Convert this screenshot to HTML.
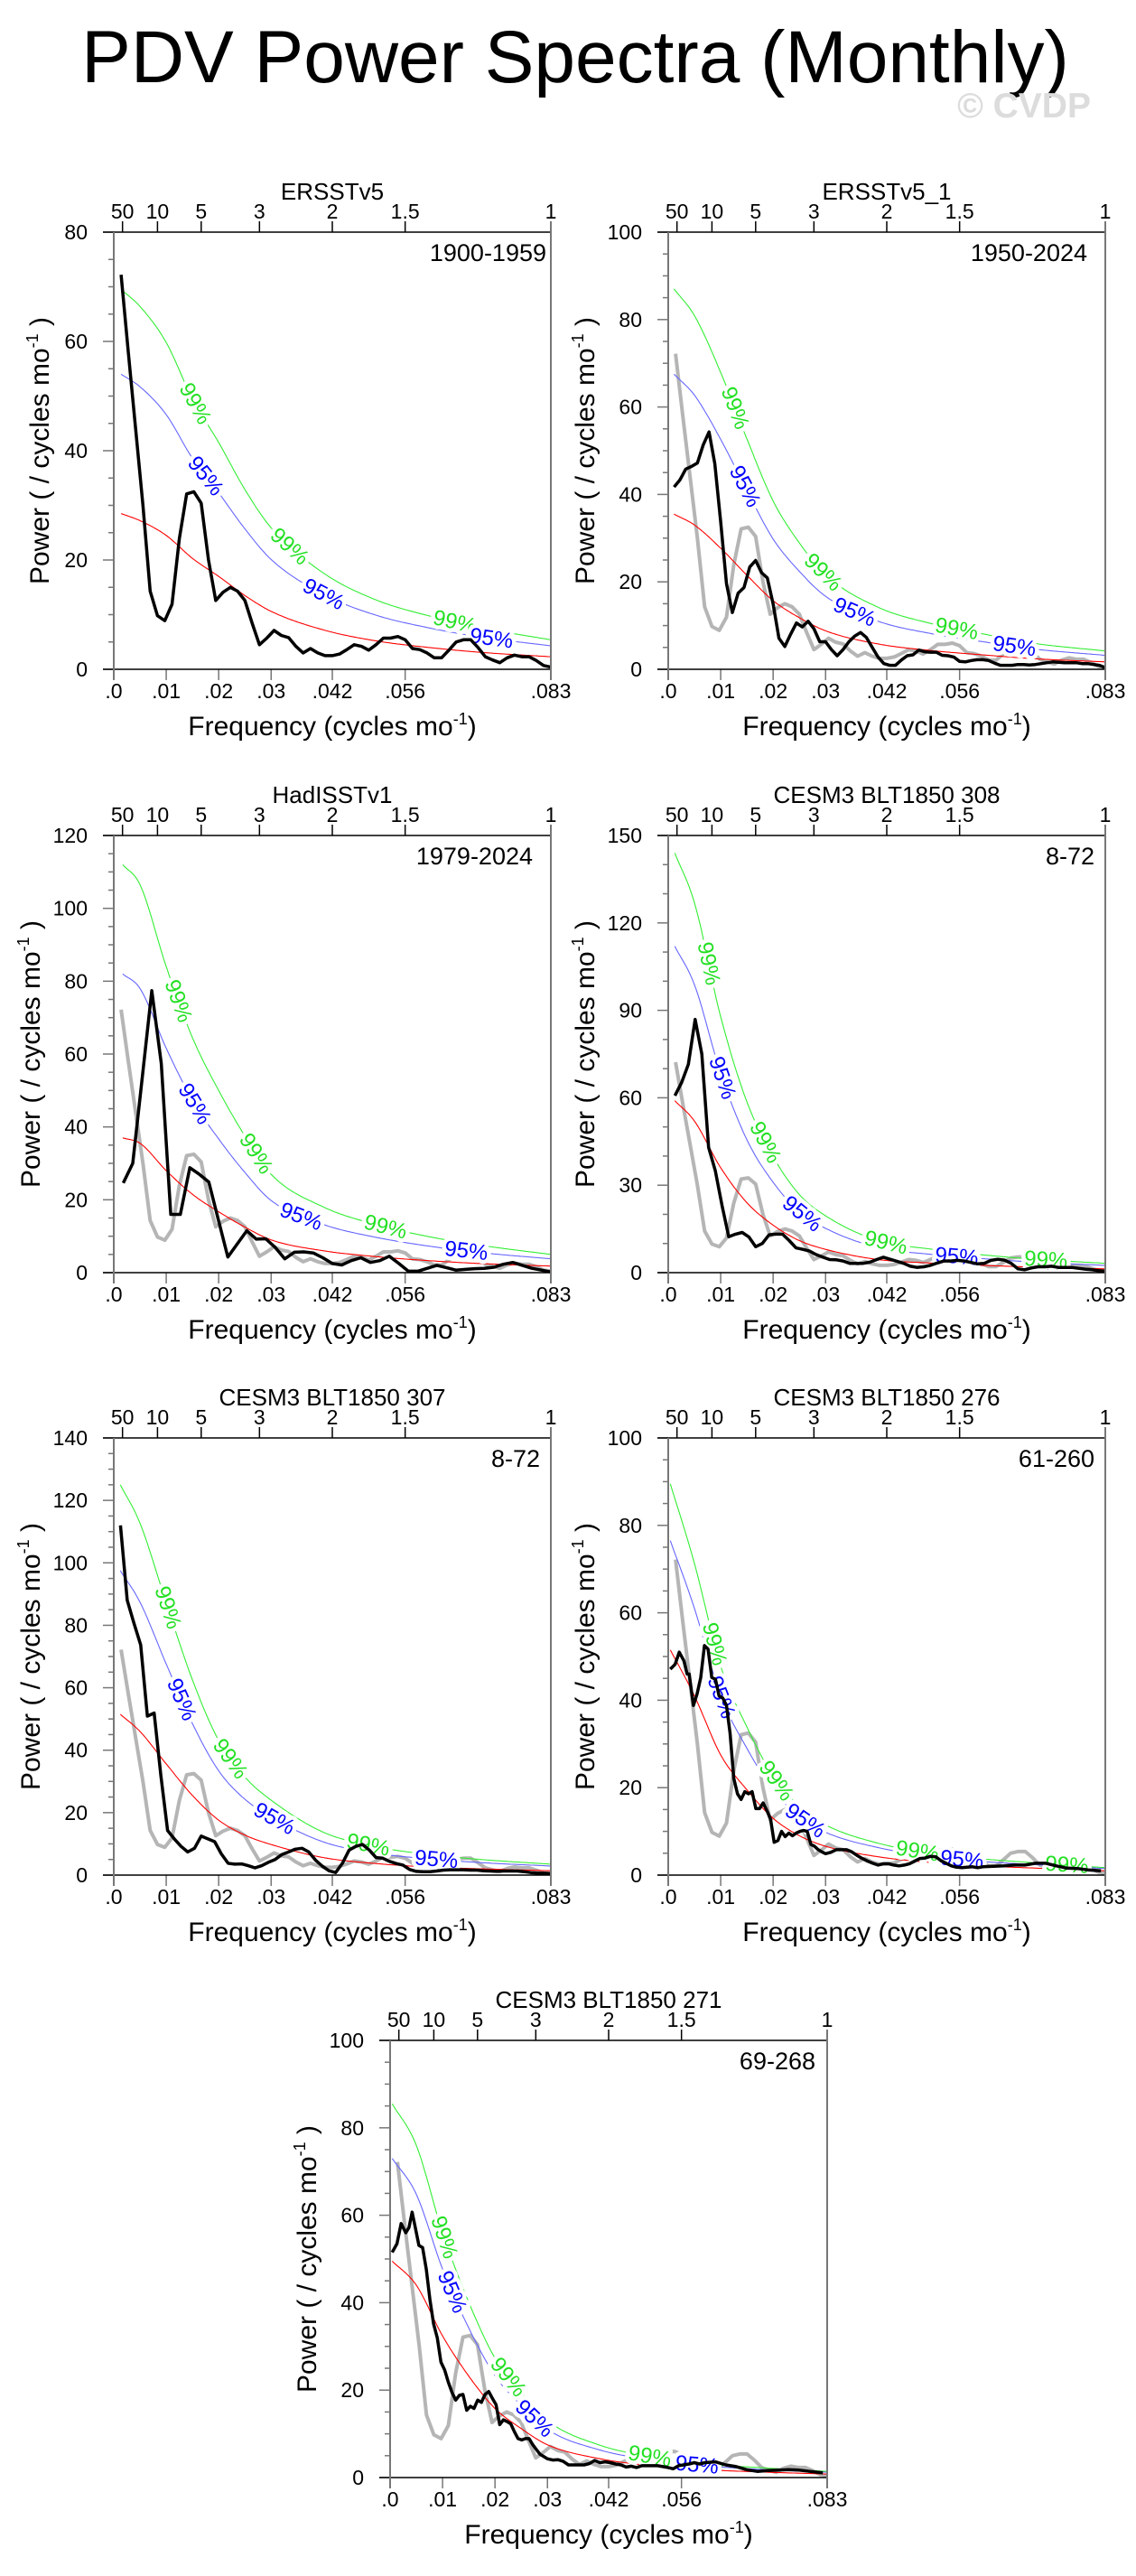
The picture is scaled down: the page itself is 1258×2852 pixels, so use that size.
<!DOCTYPE html>
<html><head><meta charset="utf-8"><title>PDV Power Spectra (Monthly)</title>
<style>html,body{margin:0;padding:0;background:#fff}svg{display:block;font-family:"Liberation Sans",sans-serif}</style>
</head><body>
<svg id="fig" width="1258" height="2852" viewBox="0 0 1258 2852" xmlns="http://www.w3.org/2000/svg">
<text x="637" y="91" font-size="82" text-anchor="middle">PDV Power Spectra (Monthly)</text>
<text x="1208" y="130" font-size="39" font-weight="bold" fill="#dcdcdc" text-anchor="end">© CVDP</text>
</svg>
<script>
// ---------- data ----------
const xTickVals=[0,0.01,0.02,0.03,1/24,1/18,1/12];
const xTickLabels=[".0",".01",".02",".03",".042",".056",".083"];
const periodYears=[50,10,5,3,2,1.5,1];
const periodLabels=["50","10","5","3","2","1.5","1"];

// ERSSTv5 1900-1959 (step 1/720) - also gray reference
const p1Black=[72.2,58,44,30,14.3,9.8,8.9,11.9,23.9,32.1,32.5,30.4,20,12.6,14.1,15,14.3,12.6,8.4,4.5,5.7,7.1,6.2,5.8,4.2,3,3.8,3,2.5,2.5,2.8,3.6,4.5,4.2,3.5,4.5,5.7,5.7,6,5.4,3.8,3.6,3,2.1,2.1,3.5,5,5.4,5.4,4,2.3,1.7,1.2,2.1,2.6,2.3,2.3,1.6,0.7,0.4];
const p1Step=1/720;
const p1RedF=[0.0014,0.005,0.01,0.015,0.02,0.025,0.03,0.04,0.05,0.06,0.07,0.0833];
const p1Red=[28.5,27.2,24.5,20.3,17,13.5,10.6,7.2,5.2,4,3.1,2.3];
const p1S95=[54,51.7,46.6,38.6,32.3,25.7,20.1,13.7,9.9,7.6,5.9,4.3];
const p1S99=[69.5,66.4,59.8,49.5,41.5,32.9,25.9,17.6,12.7,9.8,7.6,5.4];

const p2Black=[41.7,43.3,45.8,46.4,47.2,51.3,54.3,47,33.7,19.6,13,17.4,18.7,23.4,24.9,22.1,20.9,14.9,7.1,5.2,8,10.6,9.7,11,9.3,6.3,6.3,4.5,3.1,4.5,6.3,7.6,8.4,7.3,5,2.8,1.3,0.9,0.9,2.1,3.1,3.3,4.4,4,3.9,3.9,3.2,3.1,2.8,1.8,1.7,2,2.2,2.2,2,1.4,0.9,0.9,0.9,1.1,1.1,1.0,1.1,1.3,1.5,1.7,1.6,1.5,1.5,1.5,1.3,1.3,1.1,0.9,0.4];
const p2Step=1/900;
const p2RedF=[0.0011,0.005,0.01,0.015,0.02,0.025,0.03,0.04,0.05,0.06,0.07,0.0833];
const p2Red=[35.5,33,27.7,21.5,15.7,11.8,8.8,5.8,4.3,3.3,2.4,1.7];
const p2S95=[67.5,62.7,52.6,40.9,29.8,22.4,16.7,11,8.2,6.3,4.6,3.2];
const p2S99=[87,80.9,67.9,52.7,38.5,28.9,21.6,14.2,10.5,8.1,5.9,4.2];

const p3Black=[24.6,30,53.7,77.4,57.4,16,16,28.8,27,24.9,14.6,4.3,7.9,11.5,9.2,9.3,6.9,3.8,5.6,5.7,5.4,4.1,2.5,2.1,3.3,4.1,2.8,3.3,4.5,2.5,0.4,0.4,1.2,2,1.4,0.7,0.9,1.1,1.2,1.5,2.3,2.8,2,1.2,0.7,0.2];
const p3Step=1/552;
const p3RedF=[0.0017,0.005,0.01,0.015,0.02,0.025,0.03,0.04,0.05,0.06,0.07,0.0833];
const p3Red=[37,35.5,28,21.5,16.7,12.5,9,6,4.4,3.3,2.5,1.8];
const p3S95=[82,78,61.6,47.3,36.7,27.5,19.8,13.2,9.7,7.3,5.5,3.8];
const p3S99=[112,106.5,84,64.5,50,37.5,27,18,13.2,9.9,7.5,5];

const p4Black=[60.7,65.3,71.5,86.9,75,43,35,23,12.3,13.2,13.8,12.2,8.9,10,13,13.2,13.2,11,8.5,8,7.4,6.2,5.3,4.5,4.4,4,3.2,3.2,3.2,3.6,4.5,5.3,4.6,3.9,3.2,2.2,1.8,2,2.5,3.3,4,4,4.2,4,3.5,3,3.2,4.2,4.6,4.3,3.2,1.3,1,1.6,2,2,2.2,1.8,1.8,1.8,1.5,1.2,1,0.7,0.5];
const p4Step=1/780;
const p4RedF=[0.00125,0.005,0.01,0.015,0.02,0.025,0.03,0.04,0.05,0.06,0.07,0.0833];
const p4Red=[59,52,36,24,16.3,11,8,4.5,3.3,2.5,1.9,1.3];
const p4S95=[112,98.8,68.4,45.6,31,20.9,15.2,8.6,6.3,4.8,3.6,2.5];
const p4S99=[144,126.9,87.8,58.6,39.8,26.8,19.5,11,8.1,6.1,4.6,3.2];

const p5Black=[112,88,80.7,73.7,50.9,51.9,32,14.3,11.6,9.2,7.4,8.6,12.5,11.6,10.7,6.8,3.8,3.5,3.6,3,2.3,3,4.1,5,6.6,7.4,8.3,8.6,7.4,4.8,2.9,1.4,0.8,3.8,8,9.2,9.8,8,5.6,5.4,4.4,3.7,3.2,1.8,1.2,1.1,1.1,1.3,1.6,1.7,1.7,1.7,1.6,1.6,1.4,1.3,1.2,1.3,1.3,1.3,1.1,0.8,0.6,0.6,0.5];
const p5Step=1/780;
const p5RedF=[0.00125,0.005,0.01,0.015,0.02,0.025,0.03,0.04,0.05,0.06,0.07,0.0833];
const p5Red=[51.5,46,35.6,25.5,17.6,12.8,9.8,5.6,3.7,2.6,2,1.4];
const p5S95=[97.5,87.4,67.6,48.5,33.4,24.3,18.6,10.6,7,5.2,4,2.9];
const p5S99=[125,112.7,87.2,62.5,43.1,31.4,24,13.7,9.1,6.6,5,3.5];

const p6F=[0.0004,0.0013,0.0021,0.003,0.0036,0.004,0.0048,0.0055,0.0062,0.0069,0.0076,0.0083,0.009,0.0097,0.0104,0.0111,0.0118,0.0125,0.0132,0.0139,0.0146,0.0153,0.016,0.0167,0.0174,0.0181,0.0188,0.0195,0.0202,0.0209,0.0216,0.0223,0.023,0.0237,0.0244,0.0251,0.0258,0.0265,0.0272,0.0279,0.0286,0.0293,0.03,0.031,0.032,0.033,0.034,0.035,0.036,0.037,0.038,0.039,0.04,0.041,0.042,0.043,0.044,0.045,0.046,0.047,0.048,0.049,0.05,0.051,0.052,0.053,0.054,0.055,0.056,0.057,0.058,0.059,0.06,0.062,0.064,0.066,0.068,0.07,0.072,0.074,0.076,0.078,0.08,0.0825];
const p6Black=[47.1,48.2,51,49,46,46,38.8,41.4,45.2,52.5,51.7,45.2,44.8,41,40.5,38.8,32.4,22.1,18.6,17.3,19.1,18.6,19.1,15.2,15.2,16.5,14.8,12.8,7.5,7.9,10,8.8,9.6,9,9.6,10,10.2,10,7,6.6,5.8,5.3,4.9,5.2,5.8,5.8,5.8,5.3,4.5,3.8,3.2,2.7,2.3,2.6,2.6,2.3,2.1,2.3,2.6,3.2,3.8,3.9,4.3,4.2,3.3,2.7,2.1,1.8,1.7,1.8,1.9,1.7,1.9,2,2.1,2.3,2.3,2.7,2.7,2.1,1.6,1.5,1.2,1];
const p6RedF=[0.0004,0.005,0.01,0.015,0.02,0.025,0.03,0.04,0.05,0.06,0.07,0.0833];
const p6Red=[51.5,41,27.5,19.5,13,9,6.6,4.2,2.9,2.1,1.6,1.0];
const p6S95=[76.5,61,41,29,19.4,13.4,9.8,6.3,4.3,3.1,2.4,1.5];
const p6S99=[89.5,71.3,47.8,33.9,22.6,15.7,11.5,7.3,5,3.7,2.8,1.7];

const p7F=[0.0004,0.0013,0.0021,0.003,0.0036,0.0042,0.0048,0.0055,0.0062,0.0069,0.0076,0.0083,0.009,0.0097,0.0104,0.0111,0.0118,0.0125,0.0132,0.0139,0.0146,0.0153,0.016,0.0167,0.0174,0.0181,0.0188,0.0195,0.0202,0.0209,0.0216,0.0223,0.023,0.0237,0.0244,0.0251,0.0258,0.0265,0.0272,0.0279,0.0286,0.0293,0.03,0.031,0.032,0.033,0.034,0.035,0.036,0.037,0.038,0.039,0.04,0.041,0.042,0.043,0.044,0.045,0.046,0.047,0.048,0.049,0.05,0.051,0.052,0.053,0.054,0.055,0.056,0.057,0.058,0.059,0.06,0.062,0.064,0.066,0.068,0.07,0.072,0.074,0.076,0.078,0.08,0.0825];
const p7Black=[51.5,53.5,58.1,56,57.2,60.7,57.2,53.1,52.6,47.6,40.7,35.1,31.9,26.4,24.6,21.8,19.5,17.7,18.8,19,15.4,16.3,15.8,17.7,17.2,19,19.7,18.1,16.7,12.1,13.2,12.8,12.3,10.5,8.9,8.6,8.9,8.9,7.5,6.4,5.3,4.8,4.3,4,4.1,3.7,2.9,2.9,2.9,2.9,3.2,3.9,3.4,3.6,3.4,3.1,2.9,2.4,2.6,2.3,2.7,2.7,2.7,2.7,2.5,2.3,2,2.7,2.9,3.1,3.4,3.1,3.4,3.6,2.9,2.5,1.8,1.4,1.6,1.7,1.8,1.7,1.4,1.1];
const p7RedF=[0.0004,0.005,0.01,0.015,0.02,0.025,0.03,0.04,0.05,0.06,0.07,0.0833];
const p7Red=[49.5,44,32.4,23.2,15.8,11.2,7.5,4.3,2.7,1.8,1.3,0.8];
const p7S95=[73,64.8,47.7,34.2,23.3,16.5,11,6.3,4,2.7,1.9,1.2];
const p7S99=[85.5,76,56,40.1,27.3,19.4,13,7.4,4.7,3.1,2.3,1.4];

// ---------- layout ----------
const panels=[
 {id:"ersstv5",title:"ERSSTv5",years:"1900-1959",L:126,T:257,ymax:80,major:20,minor:5,yr:5,black:p1Black,step:p1Step,rf:p1RedF,red:p1Red,s95:p1S95,s99:p1S99,gray:false,l99:[0.0155,0.0335,0.065],l95:[0.0175,0.04,0.072]},
 {id:"ersstv5-1",title:"ERSSTv5_1",years:"1950-2024",L:740,T:257,ymax:100,major:20,minor:5,yr:20,black:p2Black,step:p2Step,rf:p2RedF,red:p2Red,s95:p2S95,s99:p2S99,gray:true,l99:[0.0127,0.0295,0.055],l95:[0.0146,0.0355,0.066]},
 {id:"hadisstv1",title:"HadISSTv1",years:"1979-2024",L:126,T:925,ymax:120,major:20,minor:5,yr:20,black:p3Black,step:p3Step,rf:p3RedF,red:p3Red,s95:p3S95,s99:p3S99,gray:true,l99:[0.0123,0.0271,0.0518],l95:[0.0154,0.0357,0.0672]},
 {id:"cesm3-308",title:"CESM3 BLT1850 308",years:"8-72",L:740,T:925,ymax:150,major:30,minor:10,yr:12,black:p4Black,step:p4Step,rf:p4RedF,red:p4Red,s95:p4S95,s99:p4S99,gray:true,l99:[0.0077,0.0185,0.0415,0.072],l95:[0.0103,0.0255,0.055]},
 {id:"cesm3-307",title:"CESM3 BLT1850 307",years:"8-72",L:126,T:1592,ymax:140,major:20,minor:5,yr:12,black:p5Black,step:p5Step,rf:p5RedF,red:p5Red,s95:p5S95,s99:p5S99,gray:true,l99:[0.0103,0.0222,0.0485],l95:[0.0129,0.0306,0.0615]},
 {id:"cesm3-276",title:"CESM3 BLT1850 276",years:"61-260",L:740,T:1592,ymax:100,major:20,minor:5,yr:12,black:p6Black,freqs:p6F,rf:p6RedF,red:p6Red,s95:p6S95,s99:p6S99,gray:true,l99:[0.0088,0.0206,0.0475,0.076],l95:[0.0101,0.0261,0.056]},
 {id:"cesm3-271",title:"CESM3 BLT1850 271",years:"69-268",L:432,T:2259,ymax:100,major:20,minor:5,yr:13,black:p7Black,freqs:p7F,rf:p7RedF,red:p7Red,s95:p7S95,s99:p7S99,gray:true,l99:[0.0103,0.0225,0.0495],l95:[0.0118,0.0275,0.0585]}
];
const W=484,H=484,XMAX=1/12;
const NS="http://www.w3.org/2000/svg";
const svg=document.getElementById("fig");
function mk(tag,attrs,parent){const e=document.createElementNS(NS,tag);for(const k in attrs)e.setAttribute(k,attrs[k]);(parent||svg).appendChild(e);return e;}

function monotone(xs,ys){
 const n=xs.length,d=[],m=new Array(n);
 for(let i=0;i<n-1;i++)d.push((ys[i+1]-ys[i])/(xs[i+1]-xs[i]));
 m[0]=d[0];m[n-1]=d[n-2];
 for(let i=1;i<n-1;i++)m[i]=(d[i-1]*d[i]<=0)?0:(d[i-1]+d[i])/2;
 for(let i=0;i<n-1;i++){if(d[i]===0){m[i]=0;m[i+1]=0;continue;}const a=m[i]/d[i],b=m[i+1]/d[i],s=a*a+b*b;if(s>9){const t=3/Math.sqrt(s);m[i]=t*a*d[i];m[i+1]=t*b*d[i];}}
 return function(x){let i=0;if(x<=xs[0])return ys[0];if(x>=xs[n-1])return ys[n-1];while(x>xs[i+1])i++;const h=xs[i+1]-xs[i],t=(x-xs[i])/h,t2=t*t,t3=t2*t;
  return (2*t3-3*t2+1)*ys[i]+(t3-2*t2+t)*h*m[i]+(-2*t3+3*t2)*ys[i+1]+(t3-t2)*h*m[i+1];};
}

panels.forEach(function(p){
 const g=mk("g",{});
 
 
 const L=p.L,T=p.T,R=L+W,B=T+H;
 const xs=f=>L+f/XMAX*W, ys=v=>B-v/p.ymax*H;
 const tt=mk("text",{x:L+W/2,y:T-36,"font-size":26,"text-anchor":"middle"},g);tt.textContent=p.title;
 
 
 for(let v=0;v<=p.ymax+1e-9;v+=p.minor){const y=ys(v);const isMaj=Math.abs(v/p.major-Math.round(v/p.major))<1e-6;
  mk("line",{x1:L-(isMaj?12:6),x2:L,y1:y,y2:y,stroke:"#777","stroke-width":1.5},g);
  if(isMaj){const t=mk("text",{x:L-29,y:y+8,"font-size":23,"text-anchor":"end"},g);t.textContent=String(Math.round(v));
   
   }}
 xTickVals.forEach(function(f,i){const x=xs(f);mk("line",{x1:x,x2:x,y1:B,y2:B+12,stroke:"#777","stroke-width":1.5},g);
  const t=mk("text",{x:x,y:B+32,"font-size":23,"text-anchor":"middle"},g);t.textContent=xTickLabels[i];
  
  });
 periodYears.forEach(function(py,i){const x=xs(1/(12*py));mk("line",{x1:x,x2:x,y1:T-12,y2:T,stroke:"#000","stroke-width":1.5},g);
  const t=mk("text",{x:x,y:T-15,"font-size":23,"text-anchor":"middle"},g);t.textContent=periodLabels[i];
  
  });
 const xt=mk("text",{x:L+W/2,y:B+73,"font-size":30,"text-anchor":"middle"},g);
 
 
 xt.innerHTML='Frequency (cycles mo<tspan font-size="18" dy="-12">-1</tspan><tspan dy="12">)</tspan>';
 const yoff=(p.ymax>=100)?93:83;
 const yt=mk("text",{x:0,y:0,"font-size":30,"text-anchor":"middle",transform:"translate("+(L-yoff+11)+","+(T+H/2)+") rotate(-90)"},g);
 
 
 yt.innerHTML='Power ( / cycles mo<tspan font-size="18" dy="-12">-1</tspan><tspan dy="12"> )</tspan>';
 function sig(arr,color,name){const fn=monotone(p.rf,arr);let d="";const f0=p.rf[0],f1=XMAX;
  for(let i=0;i<=240;i++){const f=f0+(f1-f0)*i/240;d+=(i?"L":"M")+xs(f).toFixed(1)+","+ys(fn(f)).toFixed(1);}
  const e=mk("path",{d:d,fill:"none",stroke:color,"stroke-width":1.1},g);
  
  
  return fn;}
 function line(vals,freqOf,color,w,name){let d="";vals.forEach(function(v,i){d+=(i?"L":"M")+xs(freqOf(i)).toFixed(1)+","+ys(v).toFixed(1);});
  const e=mk("path",{d:d,fill:"none",stroke:color,"stroke-width":w,"stroke-linejoin":"round"},g);
  
  }
 if(p.gray)line(p1Black,i=>(i+1)*p1Step,"#b5b5b5",4,"reference-spectrum-line");
 sig(p.red,"#ff0000","red-noise-line");
 const f95=sig(p.s95,"#6666ff","sig95-line");
 const f99=sig(p.s99,"#33ee33","sig99-line");
 function labels(fs,fn,color,txt,name){fs.forEach(function(f){const x=xs(f),y=ys(fn(f));const dx=xs(f+0.0005)-xs(f-0.0005),dy=ys(fn(f+0.0005))-ys(fn(f-0.0005));
  const a=Math.atan2(dy,dx)*180/Math.PI;
  const t=mk("text",{x:0,y:0,"font-size":24,"text-anchor":"middle","dominant-baseline":"central",fill:color,stroke:"#fff","stroke-width":9,"paint-order":"stroke","stroke-linejoin":"round",transform:"translate("+x.toFixed(1)+","+y.toFixed(1)+") rotate("+a.toFixed(1)+")"},g);
  t.textContent=txt;
  
  });}
 labels(p.l99,f99,"#22e022","99%","sig99-label");
 labels(p.l95,f95,"#0000ff","95%","sig95-label");
 const freqOf=p.freqs?(i=>p.freqs[i]):(i=>(i+1)*p.step);
 line(p.black,freqOf,"#000",3.5,"spectrum-line");
 mk("line",{x1:L-12,x2:R,y1:T,y2:T,stroke:"#000","stroke-width":1.5},g);
 mk("line",{x1:L-12,x2:R,y1:B,y2:B,stroke:"#000","stroke-width":1.5},g);
 mk("line",{x1:L,x2:L,y1:T,y2:B+12,stroke:"#777","stroke-width":2},g);
 mk("line",{x1:R,x2:R,y1:T-12,y2:B+12,stroke:"#777","stroke-width":2},g);
 const yl=mk("text",{x:R-p.yr,y:T+32,"font-size":27,"text-anchor":"end"},g);yl.textContent=p.years;
 
 
});
</script>
</body></html>
